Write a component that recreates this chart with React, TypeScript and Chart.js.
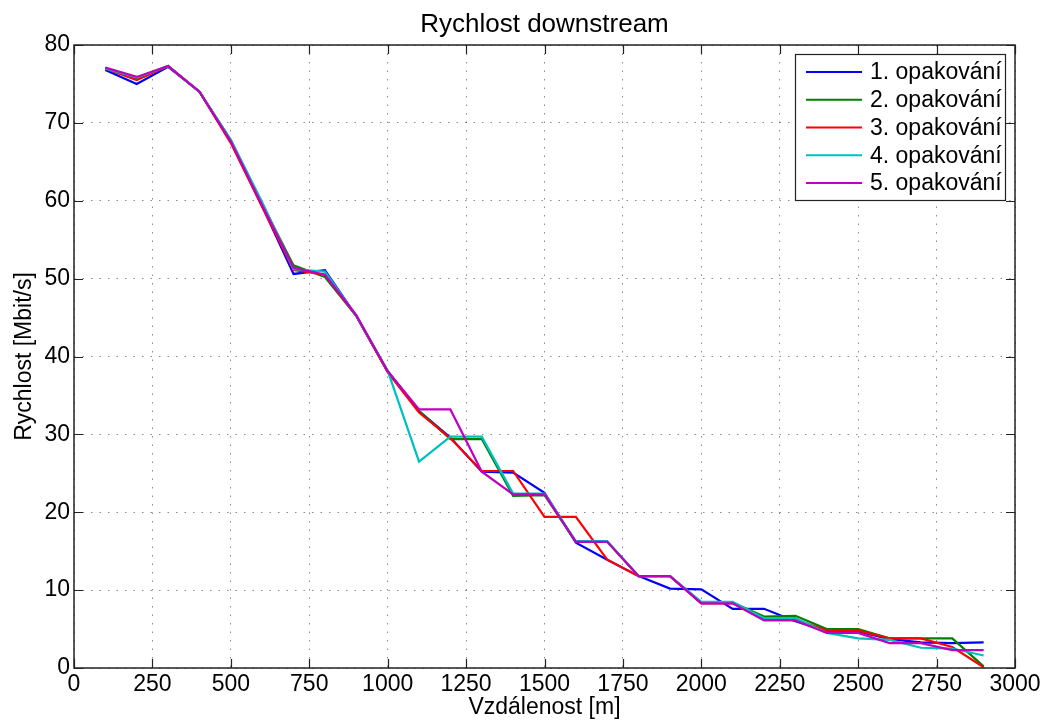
import React, { useEffect, useRef } from "react";
import { Chart, registerables } from "chart.js";

Chart.register(...registerables);

const distances = [100, 200, 300, 400, 500, 600, 700, 800, 900, 1000, 1100, 1200, 1300, 1400, 1500, 1600, 1700, 1800, 1900, 2000, 2100, 2200, 2300, 2400, 2500, 2600, 2700, 2800, 2900];

const rep1 = [76.8, 75.0, 77.2, 74.0, 67.6, 59.3, 50.6, 51.1, 45.2, 38.1, 33.0, 29.6, 25.2, 25.1, 22.5, 16.1, 13.9, 11.8, 10.2, 10.1, 7.6, 7.6, 6.0, 4.7, 4.7, 3.7, 3.3, 3.2, 3.3];
const rep2 = [77.0, 75.6, 77.3, 74.0, 67.8, 59.6, 51.7, 50.2, 45.2, 38.1, 33.0, 29.4, 29.4, 22.1, 22.2, 16.2, 16.2, 11.8, 11.8, 8.4, 8.4, 6.6, 6.7, 5.0, 5.0, 3.8, 3.8, 3.8, 0.2];
const rep3 = [77.0, 75.5, 77.3, 74.0, 67.4, 59.2, 51.1, 50.5, 45.2, 38.0, 32.8, 29.5, 25.3, 25.3, 19.4, 19.4, 13.9, 11.8, 11.8, 8.3, 8.3, 6.2, 6.2, 4.8, 4.8, 3.8, 3.8, 2.7, 0.1];
const rep4 = [77.0, 75.8, 77.3, 74.0, 67.8, 59.8, 51.2, 50.9, 45.2, 38.2, 26.5, 29.7, 29.7, 22.4, 22.4, 16.3, 16.3, 11.8, 11.8, 8.5, 8.5, 6.4, 6.4, 4.5, 3.8, 3.6, 2.6, 2.5, 1.6];
const rep5 = [77.1, 75.9, 77.3, 74.0, 67.6, 59.4, 51.4, 50.5, 45.3, 38.1, 33.2, 33.2, 25.2, 22.3, 22.3, 16.2, 16.2, 11.8, 11.8, 8.3, 8.3, 6.1, 6.1, 4.5, 4.5, 3.2, 3.2, 2.3, 2.3];

const seriesLabels = ["1. opakování", "2. opakování", "3. opakování", "4. opakování", "5. opakování"];
const seriesColors = ["#0000ff", "#008000", "#ff0000", "#00bfbf", "#bf00bf"];
const seriesValues = [rep1, rep2, rep3, rep4, rep5];

const chartTitle = "Rychlost downstream";
const xTitle = "Vzdálenost [m]";
const yTitle = "Rychlost [Mbit/s]";

const FONT = "'Liberation Sans', Arial, Helvetica, sans-serif";

const framePlugin = {
  id: "matlabFrame",
  afterDraw(chart: any) {
    const { ctx, chartArea } = chart;
    const { left, right, top, bottom } = chartArea;
    const xs = chart.scales.x;
    const ys = chart.scales.y;
    const tl = 9;
    ctx.save();

    // title, centred over the axes box
    ctx.fillStyle = "#000";
    ctx.font = `26px ${FONT}`;
    ctx.textAlign = "center";
    ctx.textBaseline = "alphabetic";
    ctx.fillText(chartTitle, (left + right) / 2, 31.5);

    ctx.strokeStyle = "#222";
    ctx.lineWidth = 1.2;
    ctx.beginPath();
    xs.ticks.forEach((t: any) => {
      const px = Math.round(xs.getPixelForValue(t.value)) + 0.5;
      ctx.moveTo(px, bottom);
      ctx.lineTo(px, bottom - tl);
      ctx.moveTo(px, top);
      ctx.lineTo(px, top + tl);
    });
    ys.ticks.forEach((t: any) => {
      const py = Math.round(ys.getPixelForValue(t.value)) + 0.5;
      ctx.moveTo(left, py);
      ctx.lineTo(left + tl, py);
      ctx.moveTo(right, py);
      ctx.lineTo(right - tl, py);
    });
    ctx.stroke();
    ctx.lineWidth = 1.5;
    ctx.strokeRect(left, top, right - left, bottom - top);

    // legend
    const W = 210;
    const H = 146;
    const bx = right - 10 - W;
    const by = top + 9;
    ctx.fillStyle = "#fff";
    ctx.fillRect(bx, by, W, H);
    ctx.strokeStyle = "#222";
    ctx.lineWidth = 1.2;
    ctx.strokeRect(bx + 0.5, by + 0.5, W, H);
    ctx.font = `23px ${FONT}`;
    ctx.textBaseline = "middle";
    ctx.textAlign = "left";
    chart.data.datasets.forEach((ds: any, i: number) => {
      const cy = by + 18 + i * 27.75;
      ctx.strokeStyle = ds.borderColor;
      ctx.lineWidth = 2.2;
      ctx.beginPath();
      ctx.moveTo(bx + 11, cy);
      ctx.lineTo(bx + 67, cy);
      ctx.stroke();
      ctx.fillStyle = "#000";
      ctx.fillText(ds.label, bx + 75, cy + 1);
    });
    ctx.restore();
  },
};

export default function App() {
  const ref = useRef<HTMLCanvasElement | null>(null);

  useEffect(() => {
    if (!ref.current) return;
    const datasets = seriesValues.map((vals, i) => ({
      label: seriesLabels[i],
      data: distances.map((d, j) => ({ x: d, y: vals[j] })),
      borderColor: seriesColors[i],
      backgroundColor: seriesColors[i],
      borderWidth: 2.2,
      pointRadius: 0,
      tension: 0,
      fill: false,
      order: seriesValues.length - 1 - i,
    }));
    const chart = new Chart(ref.current, {
      type: "line",
      data: { datasets },
      options: {
        animation: false,
        responsive: false,
        events: [],
        layout: { padding: { left: 0, right: 36, top: 45, bottom: 0 } },
        plugins: {
          legend: { display: false },
          tooltip: { enabled: false },
          title: { display: false },
        },
        scales: {
          x: {
            type: "linear",
            min: 0,
            max: 3000,
            ticks: {
              stepSize: 250,
              autoSkip: false,
              maxRotation: 0,
              color: "#000",
              padding: 3,
              font: { family: FONT, size: 23 },
              callback: (v: any) => String(v),
            },
            grid: { drawTicks: false, color: "rgba(0,0,0,0.45)", lineWidth: 1 },
            border: { display: false, dash: [1.5, 7] },
            title: {
              display: true,
              text: xTitle,
              color: "#000",
              font: { family: FONT, size: 23 },
              padding: { top: 0, bottom: 5 },
            },
            afterFit(s: any) {
              s.height = 58;
            },
          },
          y: {
            type: "linear",
            min: 0,
            max: 80,
            ticks: {
              stepSize: 10,
              autoSkip: false,
              color: "#000",
              padding: 4,
              font: { family: FONT, size: 23 },
              callback: (v: any) => String(v),
            },
            grid: { drawTicks: false, color: "rgba(0,0,0,0.45)", lineWidth: 1 },
            border: { display: false, dash: [1.5, 7] },
            title: {
              display: true,
              text: yTitle,
              color: "#000",
              font: { family: FONT, size: 23 },
              padding: { top: 11, bottom: 0 },
            },
            afterFit(s: any) {
              s.width = 74;
            },
          },
        },
      },
      plugins: [framePlugin],
    } as any);
    return () => chart.destroy();
  }, []);

  return (
    <div style={{ position: "absolute", left: 0, top: 0, width: 1051, height: 726, background: "#fff" }}>
      <canvas ref={ref} width={1051} height={726} style={{ display: "block" }} />
    </div>
  );
}
